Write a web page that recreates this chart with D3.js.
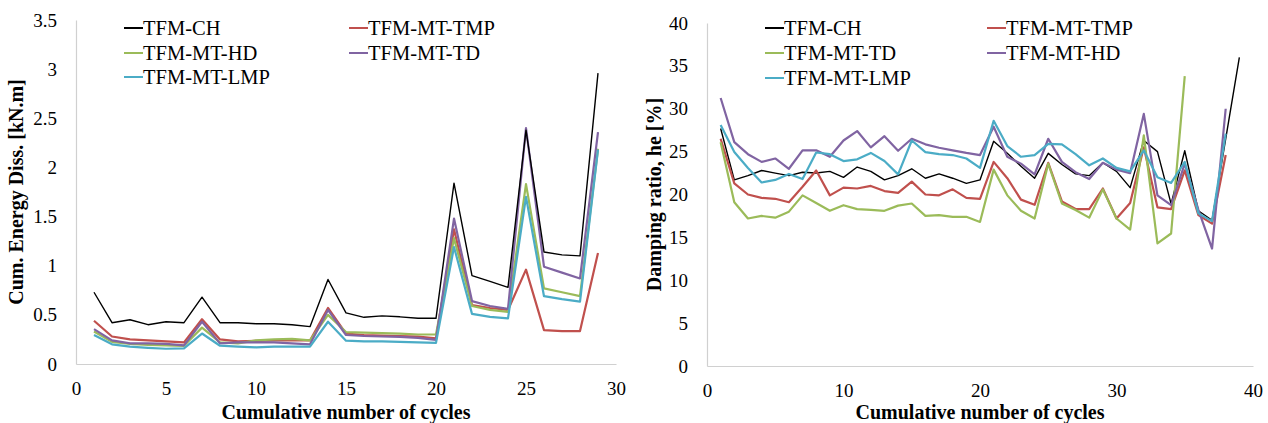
<!DOCTYPE html>
<html>
<head>
<meta charset="utf-8">
<script src="https://cdn.jsdelivr.net/npm/d3@7"></script>
<style>
  body { margin: 0; background: #fff; }
  svg text { font-family: "Liberation Serif", "Times New Roman", serif; fill: #000; }
</style>
</head>
<body>
<svg id="chart" width="1268" height="423"></svg>
<script>
// ---- left panel: cumulative energy dissipation ----
const cyclesL = [1,2,3,4,5,6,7,8,9,10,11,12,13,14,15,16,17,18,19,20,21,22,23,24,25,26,27,28,29];
const energyCH  = [0.73,0.42,0.45,0.40,0.43,0.42,0.68,0.42,0.42,0.41,0.41,0.40,0.38,0.86,0.52,0.475,0.49,0.48,0.465,0.465,1.84,0.90,0.84,0.78,2.38,1.14,1.11,1.10,2.96];
const energyTMP = [0.44,0.28,0.25,0.24,0.23,0.22,0.455,0.25,0.23,0.235,0.24,0.24,0.24,0.57,0.31,0.295,0.29,0.285,0.28,0.26,1.37,0.60,0.57,0.55,0.96,0.345,0.335,0.335,1.13];
const energyHD  = [0.33,0.225,0.205,0.195,0.19,0.185,0.37,0.22,0.21,0.24,0.25,0.255,0.24,0.50,0.325,0.32,0.315,0.31,0.30,0.30,1.28,0.59,0.55,0.53,1.83,0.77,0.73,0.69,2.19];
const energyTD  = [0.355,0.24,0.21,0.21,0.205,0.19,0.43,0.21,0.22,0.22,0.22,0.21,0.20,0.55,0.295,0.285,0.28,0.275,0.265,0.245,1.48,0.64,0.59,0.56,2.40,0.99,0.93,0.87,2.36];
const energyLMP = [0.295,0.20,0.176,0.165,0.155,0.158,0.31,0.186,0.176,0.17,0.176,0.176,0.176,0.43,0.237,0.23,0.23,0.225,0.22,0.215,1.19,0.51,0.48,0.465,1.70,0.69,0.66,0.635,2.18];
const ticksXL = [0,5,10,15,20,25,30];
const ticksYL = [0,0.5,1,1.5,2,2.5,3,3.5];

// ---- right panel: damping ratio ----
const cyclesR = [1,2,3,4,5,6,7,8,9,10,11,12,13,14,15,16,17,18,19,20,21,22,23,24,25,26,27,28,29,30,31,32,33,34,35,36,37,38,39];
const dampCH  = [27.7,21.7,22.2,22.8,22.5,22.2,22.6,22.5,22.7,22.0,23.2,22.7,21.7,22.2,23.0,21.9,22.4,21.9,21.3,21.7,26.2,24.8,23.3,21.9,24.8,23.5,22.4,22.2,23.7,22.7,20.8,26.3,25.0,18.9,25.1,18.1,17.0,26.5,36.0];
const dampTMP = [26.5,21.3,20.0,19.6,19.5,19.1,20.9,22.8,19.9,20.8,20.7,21.0,20.4,20.2,21.5,20.0,19.9,20.6,19.6,19.5,23.8,21.9,19.4,18.8,23.7,19.2,18.3,18.3,20.7,17.2,19.0,25.5,18.5,18.3,22.8,17.6,16.6,24.6];
const dampTD  = [26.1,19.1,17.2,17.5,17.3,18.0,19.9,19.0,18.1,18.75,18.3,18.2,18.1,18.7,18.95,17.5,17.6,17.4,17.4,16.8,22.9,19.9,18.1,17.2,23.6,18.95,18.2,17.3,20.6,17.2,15.9,26.9,14.3,15.45,33.8];
const dampHD  = [31.25,26.1,24.7,23.8,24.2,23.0,25.15,25.15,24.4,26.3,27.4,25.5,26.8,25.1,26.5,25.85,25.45,25.15,24.85,24.6,27.9,24.4,23.6,22.35,26.5,23.8,22.6,21.8,23.7,22.9,22.5,29.4,19.9,18.75,23.6,18.2,13.7,30.0];
const dampLMP = [28.1,24.95,23.1,21.4,21.7,22.4,21.8,24.9,24.7,23.9,24.1,24.85,23.9,22.35,26.3,24.95,24.7,24.6,24.2,23.1,28.6,25.65,24.4,24.6,25.9,25.85,24.7,23.4,24.2,23.1,22.7,25.15,22.0,21.35,23.8,17.8,16.9,27.1];
const ticksXR = [0,10,20,30,40];
const ticksYR = [0,5,10,15,20,25,30,35,40];

// excel-ish palette
const BLACK = "#000000", RED = "#c0504d", GREEN = "#9bbb59", PURPLE = "#8064a2", CYAN = "#4bacc6";

const svg = d3.select("#chart");

function drawPanel(cfg) {
  const x = d3.scaleLinear().domain(cfg.xDomain).range([cfg.left, cfg.right]);
  const y = d3.scaleLinear().domain(cfg.yDomain).range([cfg.bottom, cfg.top]);
  const g = svg.append("g");

  const xAxis = g.append("g")
    .attr("transform", `translate(0,${cfg.bottom})`)
    .call(d3.axisBottom(x).tickValues(cfg.xTicks).tickSize(0).tickPadding(18).tickFormat(d3.format("")));
  const yAxis = g.append("g")
    .attr("transform", `translate(${cfg.left},0)`)
    .call(d3.axisLeft(y).tickValues(cfg.yTicks).tickSize(0).tickPadding(19).tickFormat(d3.format("")));
  [xAxis, yAxis].forEach(a => {
    a.attr("font-family", null).attr("font-size", null);
    a.select(".domain").attr("stroke", "#d0d0d0").attr("stroke-width", 1.2);
    a.selectAll("text").style("font-size", "19px").attr("fill", "#000");
  });

  const line = d3.line().x(d => x(d[0])).y(d => y(d[1]));
  cfg.series.forEach(s => {
    const pts = s.values.map((v, i) => [cfg.xs[i], v]);
    g.append("path")
      .datum(pts)
      .attr("d", line)
      .attr("fill", "none")
      .attr("stroke", s.color)
      .attr("stroke-width", s.color === BLACK ? 1.4 : 2.2)
      .attr("stroke-linejoin", "round");
  });

  // legend, two columns
  cfg.series.forEach(s => {
    g.append("line")
      .attr("x1", s.lx).attr("x2", s.lx + 19)
      .attr("y1", s.ly).attr("y2", s.ly)
      .attr("stroke", s.color).attr("stroke-width", 2);
    g.append("text")
      .attr("x", s.lx + 19).attr("y", s.ly)
      .attr("dy", "0.34em")
      .style("font-size", "20.5px")
      .text(s.label);
  });

  g.append("text")
    .attr("x", (cfg.left + cfg.right) / 2)
    .attr("y", 419)
    .attr("text-anchor", "middle")
    .style("font-size", "20px").style("font-weight", "bold")
    .text("Cumulative number of cycles");

  g.append("text")
    .attr("transform", `translate(${cfg.yTitleX},${(cfg.top + cfg.bottom) / 2}) rotate(-90)`)
    .attr("text-anchor", "middle")
    .attr("dy", "0.35em")
    .style("font-size", "20px").style("font-weight", "bold")
    .text(cfg.yTitle);
}

drawPanel({
  left: 76, right: 616, top: 20, bottom: 364,
  xDomain: [0, 30], yDomain: [0, 3.5],
  xTicks: ticksXL, yTicks: ticksYL, xs: cyclesL,
  yTitle: "Cum. Energy Diss. [kN.m]", yTitleX: 16,
  series: [
    { label: "TFM-MT-TMP", color: RED, values: energyTMP, lx: 349, ly: 28 },
    { label: "TFM-MT-HD", color: GREEN, values: energyHD, lx: 124, ly: 53 },
    { label: "TFM-MT-TD", color: PURPLE, values: energyTD, lx: 349, ly: 53 },
    { label: "TFM-MT-LMP", color: CYAN, values: energyLMP, lx: 124, ly: 77 },
    { label: "TFM-CH", color: BLACK, values: energyCH, lx: 124, ly: 28 }
  ]
});

drawPanel({
  left: 707, right: 1253, top: 23, bottom: 366,
  xDomain: [0, 40], yDomain: [0, 40],
  xTicks: ticksXR, yTicks: ticksYR, xs: cyclesR,
  yTitle: "Damping ratio, he [%]", yTitleX: 654,
  series: [
    { label: "TFM-CH", color: BLACK, values: dampCH, lx: 765, ly: 28 },
    { label: "TFM-MT-TMP", color: RED, values: dampTMP, lx: 987, ly: 28 },
    { label: "TFM-MT-TD", color: GREEN, values: dampTD, lx: 765, ly: 53 },
    { label: "TFM-MT-HD", color: PURPLE, values: dampHD, lx: 987, ly: 53 },
    { label: "TFM-MT-LMP", color: CYAN, values: dampLMP, lx: 765, ly: 78 }
  ]
});
</script>
</body>
</html>
